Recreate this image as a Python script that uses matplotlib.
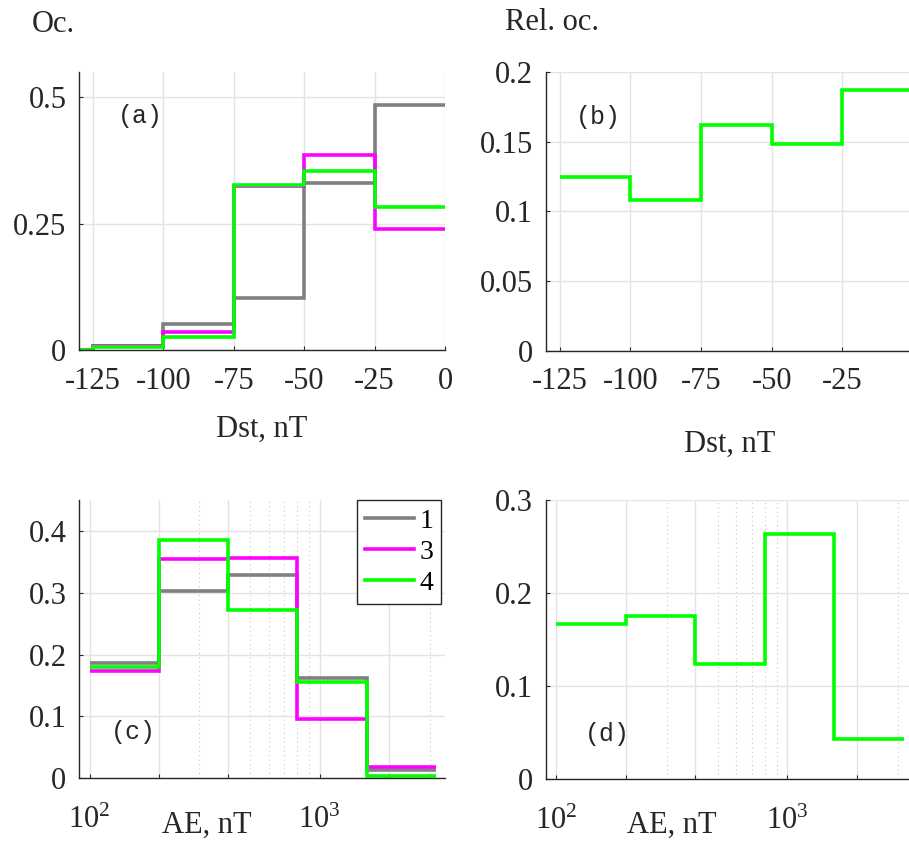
import matplotlib
matplotlib.use("Agg")
import matplotlib.pyplot as plt
from matplotlib.ticker import FixedLocator, NullFormatter

plt.rcParams["font.family"] = ["Liberation Serif", "DejaVu Serif"]
plt.rcParams["mathtext.fontset"] = "stix"
plt.rcParams["font.size"] = 22
plt.rcParams["axes.unicode_minus"] = False

# Dst bins, nT
dst_edges = [-130, -125, -100, -75, -50, -25, 0]
dst_occ_1 = [0.0, 0.008, 0.052, 0.103, 0.331, 0.485]
dst_occ_3 = [0.0, 0.0085, 0.036, 0.324, 0.385, 0.240]
dst_occ_4 = [0.0, 0.005, 0.025, 0.327, 0.355, 0.282]

dst_rel_edges = [-125, -100, -75, -50, -25, 0]
dst_rel = [0.125, 0.108, 0.162, 0.148, 0.187]

# AE bins, nT
ae_edges = [100, 200, 400, 800, 1600, 3200]
ae_occ_1 = [0.187, 0.303, 0.329, 0.162, 0.013]
ae_occ_3 = [0.174, 0.355, 0.356, 0.096, 0.018]
ae_occ_4 = [0.180, 0.385, 0.272, 0.156, 0.004]
ae_rel = [0.167, 0.175, 0.124, 0.263, 0.043]

labels = ["1", "3", "4"]
colors = ["#808080", "#ff00ff", "#00ff00"]
lw = 2.6
txt = "#262626"
W, H = 909, 841

fig = plt.figure(figsize=(W / 100, H / 100), dpi=100)


def add_ax(l, r, t, b):
    return fig.add_axes([l / W, 1 - b / H, (r - l) / W, (b - t) / H])


ax_a = add_ax(79, 445, 72, 350)
ax_b = add_ax(545.7, 913, 72, 350.7)
ax_c = add_ax(79, 445, 500, 778.3)
ax_d = add_ax(545.7, 913, 500, 779)


def style(ax):
    for s in ["top", "right"]:
        ax.spines[s].set_visible(False)
    for s in ["left", "bottom"]:
        ax.spines[s].set_color(txt)
        ax.spines[s].set_linewidth(1.0)
    ax.tick_params(direction="in", length=3, width=0.8, colors=txt,
                   labelcolor=txt, labelsize=22)
    ax.tick_params(axis="x", pad=12)
    ax.tick_params(axis="y", pad=9)
    ax.set_axisbelow(True)
    ax.grid(True, which="major", color="#e3e3e3", linewidth=1.0)


def panel_tag(ax, x, y, s):
    ax.text(x, y, s, transform=ax.transAxes, family="Liberation Mono",
            fontsize=18, color=txt, va="center", ha="left")


# (a)
for vals, c, lab in zip([dst_occ_1, dst_occ_3, dst_occ_4], colors, labels):
    ax_a.stairs(vals, dst_edges, baseline=None, color=c, linewidth=lw, label=lab)
ax_a.set_xlim(-130, 0)
ax_a.set_ylim(0, 0.55)
ax_a.set_xticks([-125, -100, -75, -50, -25, 0])
ax_a.set_yticks([0, 0.25, 0.5])
ax_a.set_yticklabels(["0", "0.25", "0.5"])
style(ax_a)
ax_a.set_xlabel("Dst, nT", fontsize=22, color=txt, labelpad=14)
panel_tag(ax_a, 0.105, 0.842, "(a)")

# (b)
ax_b.stairs(dst_rel, dst_rel_edges, baseline=None, color=colors[2], linewidth=lw)
ax_b.set_xlim(-130, 0)
ax_b.set_ylim(0, 0.2)
ax_b.set_xticks([-125, -100, -75, -50, -25])
ax_b.set_yticks([0, 0.05, 0.1, 0.15, 0.2])
ax_b.set_yticklabels(["0", "0.05", "0.1", "0.15", "0.2"])
style(ax_b)
ax_b.set_xlabel("Dst, nT", fontsize=22, color=txt, labelpad=24)
panel_tag(ax_b, 0.083, 0.838, "(b)")


def style_log(ax):
    ax.set_xscale("log")
    ax.set_xlim(90, 3500)
    ax.xaxis.set_major_locator(FixedLocator([100, 200, 400, 1000, 2000]))
    ax.set_xticklabels([r"$\mathregular{10^2}$", "", "", r"$\mathregular{10^3}$", ""])
    ax.xaxis.set_minor_locator(FixedLocator([300, 500, 600, 700, 800, 900, 3000]))
    ax.xaxis.set_minor_formatter(NullFormatter())
    style(ax)
    ax.tick_params(axis="x", which="minor", length=0)
    ax.tick_params(axis="x", pad=20)
    ax.grid(True, which="minor", axis="x", color="#c8c8c8", linewidth=0.8,
            linestyle=(0, (1, 3)))


# (c)
for vals, c, lab in zip([ae_occ_1, ae_occ_3, ae_occ_4], colors, labels):
    ax_c.stairs(vals, ae_edges, baseline=None, color=c, linewidth=lw, label=lab)
ax_c.set_ylim(0, 0.45)
ax_c.set_yticks([0, 0.1, 0.2, 0.3, 0.4])
ax_c.set_yticklabels(["0", "0.1", "0.2", "0.3", "0.4"])
style_log(ax_c)
ax_c.set_xlabel("AE, nT", fontsize=22, color=txt)
ax_c.xaxis.set_label_coords((207 - 79) / 366, -(825 - 778.3) / 278.3)
ax_c.xaxis.label.set_va("center")
panel_tag(ax_c, 0.088, 0.166, "(c)")
leg = ax_c.legend(loc="upper right", bbox_to_anchor=(0.99, 1.0), fontsize=20,
                  handlelength=1.75, handletextpad=0.2, borderpad=0.3,
                  labelspacing=0.2, fancybox=False, framealpha=1,
                  borderaxespad=0.0)
leg.get_frame().set_edgecolor(txt)
leg.get_frame().set_linewidth(1.0)

# (d)
ax_d.stairs(ae_rel, ae_edges, baseline=None, color=colors[2], linewidth=lw)
ax_d.set_ylim(0, 0.3)
ax_d.set_yticks([0, 0.1, 0.2, 0.3])
ax_d.set_yticklabels(["0", "0.1", "0.2", "0.3"])
style_log(ax_d)
ax_d.set_xlabel("AE, nT", fontsize=22, color=txt)
ax_d.xaxis.set_label_coords((672 - 545.7) / 367.3, -(825 - 779) / 279)
ax_d.xaxis.label.set_va("center")
panel_tag(ax_d, 0.108, 0.161, "(d)")

fig.text(53 / W, 1 - 25 / H, "Oc.", fontsize=22, color=txt, ha="center", va="center")
fig.text(552 / W, 1 - 22 / H, "Rel. oc.", fontsize=22, color=txt, ha="center", va="center")

fig.savefig("out.png", dpi=100)
